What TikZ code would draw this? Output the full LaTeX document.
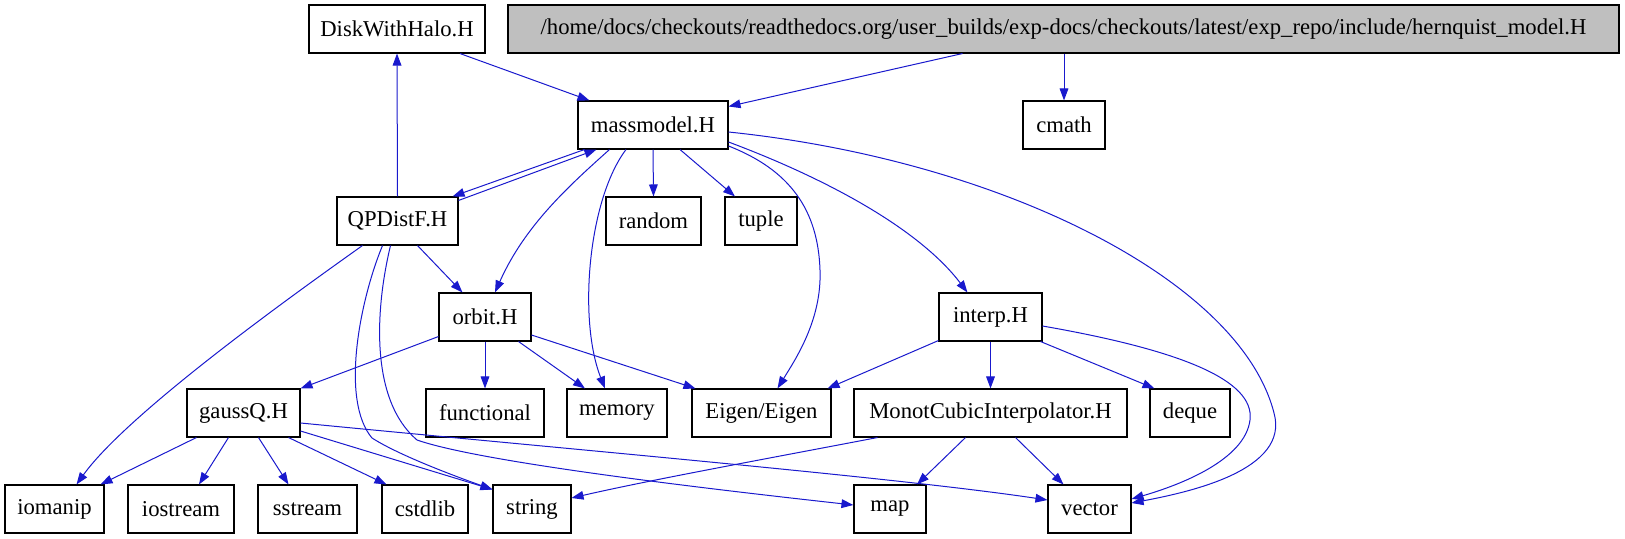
\documentclass[tikz,border=0pt]{standalone}
\usepackage{fontspec}
\setmainfont{Liberation Serif}
\usetikzlibrary{arrows.meta,calc}
\definecolor{edgeblue}{RGB}{25,25,205}
\definecolor{rootgray}{RGB}{191,191,191}
\begin{document}
\begin{tikzpicture}[x=0.75pt,y=-0.75pt,
  box/.style={draw=black,line width=0.8pt,minimum height=36pt,inner sep=0pt,anchor=center,font=\fontsize{17}{20}\selectfont},
  edge/.style={draw=edgeblue,line width=0.75pt,-{Triangle[length=9pt,width=6.5pt]}}]
\useasboundingbox (0,0) rectangle (1625,539);
% rank 0
\node[box,minimum width=132pt] (disk) at (397,29) {DiskWithHalo.H};
\node[box,minimum width=833.25pt,fill=rootgray] (hern) at (1063.5,29) {/home/docs/checkouts/readthedocs.org/user\_builds/exp-docs/checkouts/latest/exp\_repo/include/hernquist\_model.H};
% rank 1
\node[box,minimum width=112.5pt] (mass) at (653,125) {massmodel.H};
\node[box,minimum width=61.5pt] (cmath) at (1064,125) {cmath};
% rank 2
\node[box,minimum width=90.75pt] (qp) at (397.5,221) {QPDistF.H};
\node[box,minimum width=71.25pt] (random) at (653.5,221) {random};
\node[box,minimum width=54pt] (tuple) at (761,221) {tuple};
% rank 3
\node[box,minimum width=69pt] (orbit) at (485,317) {orbit.H};
\node[box,minimum width=77.25pt] (interp) at (990.5,317) {interp.H};
% rank 4
\node[box,minimum width=84.75pt] (gauss) at (243.5,413) {gaussQ.H};
\node[box,minimum width=88.5pt] (functional) at (485,413) {functional};
\node[box,minimum width=75pt] (memory) at (617,413) {memory};
\node[box,minimum width=104.25pt] (eigen) at (761.5,413) {Eigen/Eigen};
\node[box,minimum width=204.75pt] (monot) at (990.5,413) {MonotCubicInterpolator.H};
\node[box,minimum width=60pt] (deque) at (1190,413) {deque};
% rank 5
\node[box,minimum width=74.25pt] (iomanip) at (54.5,509) {iomanip};
\node[box,minimum width=79.5pt] (iostream) at (181,509) {iostream};
\node[box,minimum width=74.25pt] (sstream) at (307.5,509) {sstream};
\node[box,minimum width=64.5pt] (cstdlib) at (425,509) {cstdlib};
\node[box,minimum width=58.5pt] (string) at (532,509) {string};
\node[box,minimum width=54pt] (map) at (890,509) {map};
\node[box,minimum width=62.25pt] (vector) at (1089.5,509) {vector};
% edges
\path[edge] ($(hern.south)+(-101,0)$) -- ($(mass.north east)+(0,6)$);
\path[edge] (cmath.north |- hern.south) -- (cmath.north);
\path[edge] ($(disk.south)+(63,0)$) -- ($(mass.north west)+(12,0)$);
\path[edge] (qp.north) -- (disk.south);
\path[edge] ($(mass.south west)+(7,0)$) -- ($(qp.north east)+(-6,0)$);
\path[edge] ($(qp.north east)+(0,4)$) -- ($(mass.south west)+(19,0)$);
\path[edge] ($(mass.south west)+(32,0)$) .. controls (570,185) and (525,225) .. ($(orbit.north)+(10,0)$);
\path[edge] ($(qp.south)+(20,0)$) -- ($(orbit.north west)+(24,0)$);
\path[edge] (mass.south) -- (random.north);
\path[edge] ($(mass.south)+(27,0)$) -- ($(tuple.north)+(-26,0)$);
\path[edge] ($(mass.south)+(-27,0)$) .. controls (588,200) and (578,320) .. ($(memory.north)+(-12,0)$);
\path[edge] ($(mass.east)+(0,21)$) .. controls (790,170) and (818,210) .. (820,270) .. controls (822,320) and (795,360) .. ($(eigen.north)+(16,0)$);
\path[edge] ($(mass.east)+(0,17)$) .. controls (830,180) and (920,230) .. ($(interp.north west)+(29,0)$);
\path[edge] ($(mass.east)+(0,7)$) .. controls (1000,160) and (1240,280) .. (1274,413) .. controls (1290,470) and (1190,492) .. ($(vector.east)+(0,-6)$);
\path[edge] ($(qp.south west)+(26,0)$) .. controls (310,283) and (130,410) .. ($(iomanip.north)+(22,0)$);
\path[edge] ($(qp.south)+(-15,0)$) .. controls (360,300) and (340,400) .. (372,438) .. controls (400,456) and (460,478) .. ($(string.north west)+(0,5)$);
\path[edge] ($(qp.south)+(-7,0)$) .. controls (375,310) and (370,400) .. (417,440) .. controls (480,462) and (700,488) .. ($(map.west)+(0,-4)$);
\path[edge] ($(orbit.south west)+(0,-5)$) -- (gauss.north east);
\path[edge] (orbit.south) -- (functional.north);
\path[edge] ($(orbit.south east)+(-13,0)$) -- ($(memory.north)+(-32,0)$);
\path[edge] ($(orbit.east)+(0,18)$) -- ($(eigen.north west)+(4,0)$);
\path[edge] ($(interp.south west)+(0,-1)$) -- ($(eigen.north east)+(-4,0)$);
\path[edge] (interp.south) -- (monot.north);
\path[edge] ($(interp.south east)+(-2,0)$) -- ($(deque.north west)+(5,0)$);
\path[edge] ($(interp.east)+(0,9)$) .. controls (1180,350) and (1255,380) .. (1250,420) .. controls (1245,460) and (1180,485) .. ($(vector.east)+(0,-10)$);
\path[edge] ($(gauss.south west)+(10,0)$) -- ($(iomanip.north east)+(-4,0)$);
\path[edge] ($(gauss.south)+(-15,0)$) -- ($(iostream.north)+(18,0)$);
\path[edge] ($(gauss.south)+(15,0)$) -- ($(sstream.north)+(-19,0)$);
\path[edge] ($(gauss.south east)+(-12,0)$) -- ($(cstdlib.north west)+(5,0)$);
\path[edge] ($(gauss.east)+(0,18)$) -- ($(string.north west)+(0,5)$);
\path[edge] ($(gauss.east)+(0,10)$) .. controls (600,452) and (900,478) .. ($(vector.west)+(0,-9)$);
\path[edge] ($(monot.south west)+(24,0)$) .. controls (760,460) and (650,480) .. ($(string.east)+(0,-11)$);
\path[edge] ($(monot.south)+(-25,0)$) -- ($(map.north)+(27,0)$);
\path[edge] ($(monot.south)+(25,0)$) -- ($(vector.north)+(-26,0)$);
\end{tikzpicture}
\end{document}
